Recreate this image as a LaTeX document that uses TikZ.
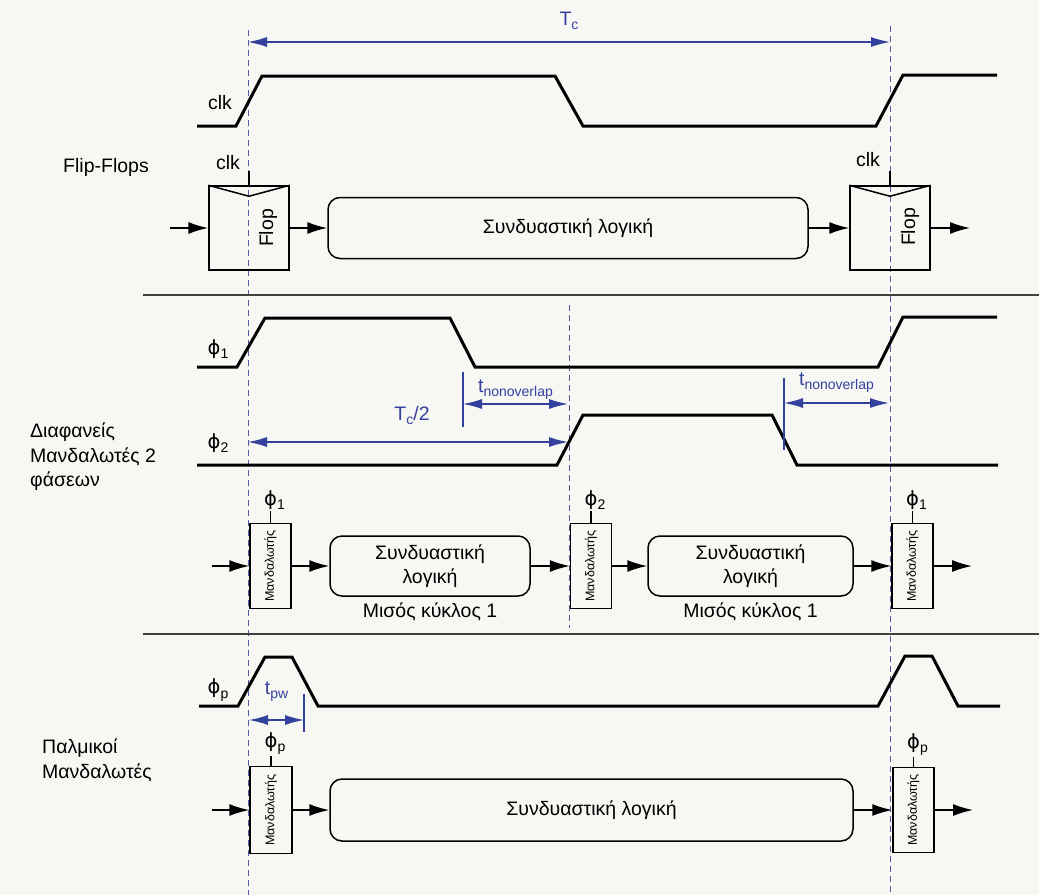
\documentclass[tikz,border=0pt]{standalone}
\usepackage{fontspec}
\setmainfont{Liberation Sans}
\newfontfamily\phifont{DejaVu Sans}
\usetikzlibrary{arrows.meta,positioning}
\definecolor{dimblue}{RGB}{52,64,158}
\definecolor{guideblue}{RGB}{80,92,165}
\definecolor{paper}{RGB}{247,247,243}
\newcommand{\lowidx}[2]{#1\raisebox{-0.4ex}{\fontsize{14}{14}\selectfont #2}}
\newcommand{\phx}[1]{\lowidx{{\phifont ϕ}}{#1}}

\begin{document}
\begin{tikzpicture}[x=1pt,y=-1pt,
  txt/.style={font=\fontsize{19.5}{24.5}\selectfont, inner sep=1pt},
  latxt/.style={rotate=90, inner sep=0pt, font=\fontsize{12.5}{13}\selectfont},
  wave/.style={line width=3pt, line join=miter},
  guide/.style={guideblue, line width=1pt, dash pattern=on 6pt off 4pt},
  dim/.style={dimblue, line width=1.3pt, >={Latex[length=19pt,width=10pt]}, <->},
  tick/.style={dimblue, line width=1.3pt},
  dimtxt/.style={txt, dimblue},
  sig/.style={line width=1.5pt, >={Latex[length=20pt,width=12pt]}, ->},
  flop/.style={draw, line width=1.5pt, minimum width=80pt, minimum height=84pt, inner sep=0pt},
  latch/.style={draw, line width=1.5pt, minimum width=41pt, minimum height=85pt, inner sep=0pt},
  logic/.style={txt, draw, line width=1.5pt, rounded corners=12pt, minimum height=60pt, align=center},
  sep/.style={line width=2pt, black!75}]
% Paper
\useasboundingbox (0,0) rectangle (1039,895);
\fill[paper] (0,0) rectangle (1039,895);
% Guide lines and separators
\foreach \x/\ya/\yb in {248/30/895, 890/26/895, 569/305/628}
  \draw[guide] (\x,\ya) -- (\x,\yb);
\draw[sep] (143,295) -- (1039,295);
\draw[sep] (143,634) -- (1039,634);

%% Flip-flops
\node[txt, anchor=base west] (ffname) at (62,172) {Flip-Flops};
\draw[wave] (197,126) -- (236,126) -- (262,76) -- (555,76) -- (583,126) -- (876,126) -- (903,75) -- (997,75);
\node[txt] (clkw) at (220,103) {clk};
\coordinate (tca) at (248,42);
\coordinate (tcb) at (890,42);
\draw[dim] (tca) -- node[dimtxt, above=11pt] (tc) {\lowidx{T}{c}} (tcb);
% Flops
\node[flop] (f1) at (249,228) {};
\node[txt, rotate=90] (f1t) at (268,228) {Flop};
\draw[line width=1.5pt] (f1.north west) -- ([yshift=-11pt]f1.north) -- (f1.north east);
\coordinate (f1ck) at ([yshift=14pt]f1.north);
\draw[line width=1.5pt] (f1.north) -- (f1ck);
\node[txt] (f1c) at (228,163) {clk};
\node[flop] (f2) at (890,228) {};
\node[txt, rotate=90] (f2t) at (910,227) {Flop};
\draw[line width=1.5pt] (f2.north west) -- ([yshift=-11pt]f2.north) -- (f2.north east);
\coordinate (f2ck) at ([yshift=14pt]f2.north);
\draw[line width=1.5pt] (f2.north) -- (f2ck);
\node[txt] (f2c) at (868,160) {clk};
\node[logic, minimum width=480pt, minimum height=61pt] (cl0) at (568,228) {Συνδυαστική λογική};
\coordinate (in0) at (170,228);
\coordinate (out0) at (970,228);
\draw[sig] (in0) -- (f1);
\draw[sig] (f1) -- (cl0);
\draw[sig] (cl0) -- (f2);
\draw[sig] (f2) -- (out0);

%% Two-phase transparent latches
\node[txt, anchor=north west, align=left, inner sep=0pt] (tpname) at (30,423) {Διαφανείς\\Μανδαλωτές 2\\φάσεων};
\draw[wave] (197,367) -- (237,367) -- (265,318) -- (450,318) -- (475,367) -- (878,367) -- (903,317) -- (997,317);
\draw[wave] (197,465) -- (557,465) -- (583,415) -- (772,415) -- (797,465) -- (998,465);
\node[txt] (p1w) at (218,349) {\phx{1}};
\node[txt] (p2w) at (218,443) {\phx{2}};
% non-overlap and half period
\coordinate (no1a) at (463,404);
\coordinate (no1b) at (568,404);
\draw[tick] ([yshift=32pt]no1a) -- ([yshift=-23pt]no1a);
\draw[dim] (no1a) -- node[dimtxt, above=3pt] (no1t) {\lowidx{t}{nonoverlap}} (no1b);
\coordinate (hca) at (248,442);
\coordinate (hcb) at (568,442);
\draw[dim] (hca) -- node[dimtxt, above=16pt, xshift=4pt] (hct) {\lowidx{T}{c}/2} (hcb);
\coordinate (no2a) at (784,403);
\coordinate (no2b) at (889,403);
\draw[tick] ([yshift=25pt]no2a) -- ([yshift=-47pt]no2a);
\draw[dim] (no2a) -- node[dimtxt, above=9pt] (no2t) {\lowidx{t}{nonoverlap}} (no2b);
% Latches and logic
\node[latch] (l1) at (270.5,566) {};
\node[latxt] (l1t) at (l1) {Μανδαλωτής};
\node[txt, above=12pt of l1, xshift=4pt] (l1c) {\phx{1}};
\draw[line width=1.5pt] (l1.north) -- (l1.north |- l1c.south);
\node[logic, minimum width=200pt] (cl1) at (430,566) {Συνδυαστική\\λογική};
\node[txt, below=5pt of cl1] (hc1) {Μισός κύκλος 1};
\node[latch] (l2) at (591,566) {};
\node[latxt] (l2t) at (l2) {Μανδαλωτής};
\node[txt, above=12pt of l2, xshift=4pt] (l2c) {\phx{2}};
\draw[line width=1.5pt] (l2.north) -- (l2.north |- l2c.south);
\node[logic, minimum width=205pt] (cl2) at (750.5,566) {Συνδυαστική\\λογική};
\node[txt, below=5pt of cl2] (hc2) {Μισός κύκλος 1};
\node[latch] (l3) at (912.5,566) {};
\node[latxt] (l3t) at (l3) {Μανδαλωτής};
\node[txt, above=12pt of l3, xshift=4pt] (l3c) {\phx{1}};
\draw[line width=1.5pt] (l3.north) -- (l3.north |- l3c.south);
\coordinate (in1) at (212,566);
\coordinate (out1) at (972,566);
\draw[sig] (in1) -- (l1);
\draw[sig] (l1) -- (cl1);
\draw[sig] (cl1) -- (l2);
\draw[sig] (l2) -- (cl2);
\draw[sig] (cl2) -- (l3);
\draw[sig] (l3) -- (out1);

%% Pulsed latches
\node[txt, anchor=north west, align=left, inner sep=0pt] (plname) at (42,739) {Παλμικοί\\Μανδαλωτές};
\draw[wave] (199,706) -- (238,706) -- (265,657) -- (292,657) -- (318,706) -- (878,706) -- (905,656) -- (932,656) -- (958,706) -- (1000,706);
\node[txt] (ppw) at (218,690) {\phx{p}};
\coordinate (pwa) at (249,720);
\coordinate (pwb) at (304,720);
\draw[tick] ([yshift=26pt]pwb) -- ([yshift=-12pt]pwb);
\draw[dim] (pwa) -- node[dimtxt, above=17pt] (pwt) {\lowidx{t}{pw}} (pwb);
\node[latch, minimum width=42pt, minimum height=87pt] (l4) at (271,810) {};
\node[latxt] (l4t) at (l4) {Μανδαλωτής};
\node[txt, above=10pt of l4, xshift=4pt] (l4c) {\phx{p}};
\draw[line width=1.5pt] (l4.north) -- (l4.north |- l4c.south);
\node[logic, minimum width=523pt, minimum height=62pt] (cl3) at (591.5,810) {Συνδυαστική λογική};
\node[latch] (l5) at (913.5,810) {};
\node[latxt] (l5t) at (l5) {Μανδαλωτής};
\node[txt, above=10pt of l5, xshift=4pt] (l5c) {\phx{p}};
\draw[line width=1.5pt] (l5.north) -- (l5.north |- l5c.south);
\coordinate (in2) at (212,810);
\coordinate (out2) at (973,810);
\draw[sig] (in2) -- (l4);
\draw[sig] (l4) -- (cl3);
\draw[sig] (cl3) -- (l5);
\draw[sig] (l5) -- (out2);
\end{tikzpicture}
\end{document}
